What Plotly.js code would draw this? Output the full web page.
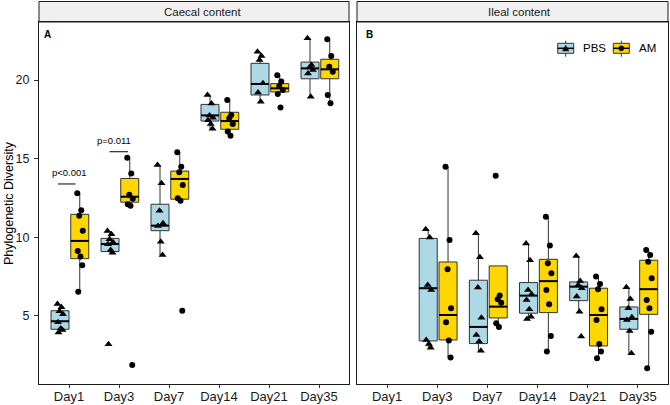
<!DOCTYPE html>
<html>
<head>
<meta charset="utf-8">
<script src="https://cdn.plot.ly/plotly-3.0.1.min.js"></script>
<style>html,body{margin:0;padding:0;background:#fff}#chart{width:670px;height:405px}</style>
</head>
<body>
<div id="chart"></div>
<script>
// ---------------- DATA ----------------
const days = ['Day1', 'Day3', 'Day7', 'Day14', 'Day21', 'Day35'];
const caecalDays = ['Day1', 'Day3', 'Day7', 'Day14', 'Day21', 'Day35'];
const ilealDays = ['Day3', 'Day7', 'Day14', 'Day21', 'Day35'];

// Caecal content, PBS box statistics
const caecalPbsQ1 = [4.15, 9.09, 10.42, 17.39, 19.05, 20.08];
const caecalPbsMedian = [4.66, 9.57, 10.74, 17.75, 19.75, 20.74];
const caecalPbsQ3 = [5.33, 9.93, 12.10, 18.45, 21.06, 21.14];
const caecalPbsLow = [3.94, 9.02, 8.87, 16.90, 18.62, 18.94];
const caecalPbsHigh = [5.76, 10.40, 14.60, 19.07, 21.80, 22.65];
// Caecal content, AM box statistics
const caecalAmQ1 = [8.64, 12.23, 12.42, 16.87, 19.24, 20.08];
const caecalAmMedian = [9.77, 12.58, 13.71, 17.39, 19.47, 20.68];
const caecalAmQ3 = [11.46, 13.74, 14.21, 17.95, 19.77, 21.32];
const caecalAmLow = [6.54, 12.05, 12.33, 16.45, 19.11, 18.52];
const caecalAmHigh = [12.80, 15.06, 15.40, 18.73, 20.30, 22.59];

// Ileal content, PBS box statistics
const ilealPbsQ1 = [3.41, 3.24, 5.17, 5.97, 4.15];
const ilealPbsMedian = [6.76, 4.30, 6.29, 6.86, 4.81];
const ilealPbsQ3 = [9.93, 7.27, 7.12, 7.16, 5.57];
const ilealPbsLow = [2.98, 2.79, 4.81, 5.27, 2.62];
const ilealPbsHigh = [10.51, 10.25, 9.61, 8.81, 6.82];
// Ileal content, AM box statistics
const ilealAmQ1 = [3.47, 4.87, 5.21, 3.09, 5.10];
const ilealAmMedian = [5.06, 5.59, 7.21, 5.06, 6.70];
const ilealAmQ3 = [8.43, 8.18, 8.60, 6.76, 8.54];
const ilealAmLow = [2.35, 4.30, 2.73, 2.31, 1.67];
const ilealAmHigh = [14.49, 8.18, 11.31, 7.50, 9.19];

// Individual samples
const caecalPbsPoints = [
  [5.75, 5.55, 5.30, 5.10, 4.60, 4.20, 4.10, 3.95],
  [10.40, 10.20, 9.87, 9.68, 9.55, 9.19, 9.02, 3.20],
  [14.60, 13.43, 11.69, 10.89, 10.72, 9.72, 8.87],
  [19.05, 18.50, 17.75, 17.60, 17.45, 17.20, 16.90],
  [21.80, 21.53, 21.27, 19.79, 19.20, 18.62],
  [22.65, 20.95, 20.80, 20.64, 20.42, 18.94]
];
const caecalAmPoints = [
  [12.80, 11.72, 11.37, 10.42, 9.13, 8.77, 8.22, 6.54],
  [15.06, 14.05, 12.70, 12.45, 12.10, 12.00, 1.88],
  [15.40, 14.49, 14.13, 13.32, 12.48, 12.33, 5.33],
  [18.73, 17.78, 17.57, 17.20, 16.72, 16.45],
  [20.30, 19.90, 19.62, 19.36, 19.11, 18.26],
  [22.59, 21.53, 20.85, 20.53, 19.05, 18.52]
];
const ilealPbsPoints = [
  [10.51, 9.98, 6.97, 6.65, 3.47, 3.22, 2.98],
  [10.25, 8.73, 6.80, 4.89, 3.79, 3.37, 2.79],
  [9.61, 8.54, 6.65, 6.38, 6.01, 5.42, 4.95, 4.81],
  [8.81, 7.22, 6.97, 6.76, 6.23, 5.27, 3.69],
  [6.82, 6.08, 5.49, 4.91, 4.74, 4.04, 2.62]
];
const ilealAmPoints = [
  [14.49, 9.83, 7.97, 5.49, 4.60, 3.43, 2.35],
  [13.92, 6.29, 6.06, 5.84, 4.53, 4.30],
  [11.31, 9.47, 8.35, 7.71, 6.65, 5.74, 3.73, 2.73],
  [7.50, 7.03, 6.70, 5.42, 4.74, 3.22, 2.73, 2.31],
  [9.19, 8.87, 8.45, 7.39, 6.01, 5.49, 4.00, 1.67]
];

// significance labels (Caecal content)
const pLabels = ['p<0.001', 'p=0.011'];
const pDays = ['Day1', 'Day3'];
const pHeights = [13.39, 15.44];

// ---------------- STYLE / LAYOUT ----------------
const W = 670, H = 405;
const PX = x => x / W;
const PY = y => 1 - y / H;
const FONT = 'Liberation Sans, Arial, sans-serif';
const BLUE = '#ADD8E6';
const GOLD = '#FFD700';
const BOXLINE = '#333333';
const OFF_PBS = -0.18, OFF_AM = 0.215, BOXW = 0.36;
const JIT = [-0.05, 0.03, -0.01, 0.06, -0.04, 0.015, 0.05, -0.03];
const pos = d => days.indexOf(d) + 1;

function boxTrace(ax, ay, dlist, off, q1, med, q3, lo, hi, fill) {
  return {
    type: 'box', xaxis: ax, yaxis: ay, orientation: 'v',
    x: dlist.map(d => pos(d) + off),
    q1: q1, median: med, q3: q3, lowerfence: lo, upperfence: hi,
    width: BOXW, fillcolor: fill, line: { color: BOXLINE, width: 1 },
    whiskerwidth: 0, boxpoints: false, showlegend: false, hoverinfo: 'skip'
  };
}
function medianTrace(ax, ay, dlist, off, med) {
  const xs = [], ys = [];
  dlist.forEach((d, i) => {
    const c = pos(d) + off;
    xs.push(c - BOXW / 2, c + BOXW / 2, null);
    ys.push(med[i], med[i], null);
  });
  return { type: 'scatter', mode: 'lines', xaxis: ax, yaxis: ay, x: xs, y: ys,
    line: { color: '#000', width: 2 }, showlegend: false, hoverinfo: 'skip' };
}
function pointTrace(ax, ay, dlist, off, pts, symbol, size) {
  const xs = [], ys = [];
  dlist.forEach((d, i) => {
    pts[i].forEach((v, k) => {
      xs.push(pos(d) + off + JIT[k % JIT.length]);
      ys.push(v);
    });
  });
  return { type: 'scatter', mode: 'markers', xaxis: ax, yaxis: ay, x: xs, y: ys,
    marker: { symbol: symbol, size: size, color: '#000' }, showlegend: false, hoverinfo: 'skip' };
}

const traces = [
  boxTrace('x', 'y', caecalDays, OFF_PBS, caecalPbsQ1, caecalPbsMedian, caecalPbsQ3, caecalPbsLow, caecalPbsHigh, BLUE),
  boxTrace('x', 'y', caecalDays, OFF_AM, caecalAmQ1, caecalAmMedian, caecalAmQ3, caecalAmLow, caecalAmHigh, GOLD),
  boxTrace('x2', 'y2', ilealDays, OFF_PBS, ilealPbsQ1, ilealPbsMedian, ilealPbsQ3, ilealPbsLow, ilealPbsHigh, BLUE),
  boxTrace('x2', 'y2', ilealDays, OFF_AM, ilealAmQ1, ilealAmMedian, ilealAmQ3, ilealAmLow, ilealAmHigh, GOLD),
  medianTrace('x', 'y', caecalDays, OFF_PBS, caecalPbsMedian),
  medianTrace('x', 'y', caecalDays, OFF_AM, caecalAmMedian),
  medianTrace('x2', 'y2', ilealDays, OFF_PBS, ilealPbsMedian),
  medianTrace('x2', 'y2', ilealDays, OFF_AM, ilealAmMedian),
  pointTrace('x', 'y', caecalDays, OFF_PBS, caecalPbsPoints, 'triangle-up', 7),
  pointTrace('x', 'y', caecalDays, OFF_AM, caecalAmPoints, 'circle', 6),
  pointTrace('x2', 'y2', ilealDays, OFF_PBS, ilealPbsPoints, 'triangle-up', 7),
  pointTrace('x2', 'y2', ilealDays, OFF_AM, ilealAmPoints, 'circle', 6)
];

const yDomain = [PY(384), PY(22)];
const yRange = [0.67, 23.69];
const xCommon = {
  range: [0.4, 6.6], tickmode: 'array', tickvals: days.map(pos), ticktext: days,
  ticks: 'outside', ticklen: 3, tickcolor: '#333', tickwidth: 1,
  ticklabelstandoff: -3,
  showline: true, mirror: true, linecolor: '#1a1a1a', linewidth: 1,
  showgrid: false, zeroline: false,
  tickfont: { family: FONT, size: 13, color: '#1a1a1a' }
};
const layout = {
  width: W, height: H,
  margin: { l: 0, r: 0, t: 0, b: 0 },
  paper_bgcolor: '#fff', plot_bgcolor: '#fff',
  showlegend: false,
  font: { family: FONT, color: '#1a1a1a' },
  xaxis: Object.assign({}, xCommon, { domain: [PX(39), PX(349)], anchor: 'y' }),
  xaxis2: Object.assign({}, xCommon, { domain: [PX(357), PX(668)], anchor: 'y2' }),
  yaxis: {
    domain: yDomain, range: yRange, anchor: 'x',
    tickmode: 'array', tickvals: [5, 10, 15, 20],
    ticks: 'outside', ticklen: 4, tickcolor: '#333',
    ticklabelstandoff: 2,
    showline: true, mirror: true, linecolor: '#1a1a1a', linewidth: 1,
    showgrid: false, zeroline: false,
    tickfont: { family: FONT, size: 12.5, color: '#1a1a1a' }
  },
  yaxis2: {
    domain: yDomain, range: yRange, anchor: 'x2',
    showticklabels: false, ticks: '',
    showline: true, mirror: true, linecolor: '#1a1a1a', linewidth: 1,
    showgrid: false, zeroline: false
  },
  shapes: [],
  annotations: []
};

// facet strips
[[39, 349], [357, 668]].forEach(([a, b]) => {
  layout.shapes.push({ type: 'rect', xref: 'paper', yref: 'paper',
    x0: PX(a), x1: PX(b), y0: PY(22), y1: PY(1.5),
    fillcolor: '#F0F0F0', line: { color: '#1a1a1a', width: 1 }, layer: 'below' });
});
layout.annotations.push(
  { xref: 'paper', yref: 'paper', x: PX(202.5), y: PY(12), text: 'Caecal content', showarrow: false,
    xanchor: 'center', yanchor: 'middle', font: { family: FONT, size: 11.5, color: '#1a1a1a' } },
  { xref: 'paper', yref: 'paper', x: PX(519), y: PY(12), text: 'Ileal content', showarrow: false,
    xanchor: 'center', yanchor: 'middle', font: { family: FONT, size: 11.5, color: '#1a1a1a' } },
  { xref: 'paper', yref: 'paper', x: PX(42), y: PY(34.5), text: '<b>A</b>', showarrow: false,
    xanchor: 'left', yanchor: 'middle', font: { family: FONT, size: 10, color: '#000' } },
  { xref: 'paper', yref: 'paper', x: PX(363.5), y: PY(34.5), text: '<b>B</b>', showarrow: false,
    xanchor: 'left', yanchor: 'middle', font: { family: FONT, size: 10, color: '#000' } },
  { xref: 'paper', yref: 'paper', x: PX(9), y: PY(203), text: 'Phylogenetic Diversity', showarrow: false,
    textangle: -90, xanchor: 'center', yanchor: 'middle', font: { family: FONT, size: 12.5, color: '#000' } }
);

// significance brackets
const pLineOff = [[-0.22, 0.13], [-0.19, 0.18]];
const pTextOff = [0.01, -0.1];
pLabels.forEach((lab, i) => {
  const c = pos(pDays[i]);
  layout.shapes.push({ type: 'line', xref: 'x', yref: 'y',
    x0: c + pLineOff[i][0], x1: c + pLineOff[i][1], y0: pHeights[i], y1: pHeights[i],
    line: { color: '#000', width: 1 } });
  layout.annotations.push({ xref: 'x', yref: 'y', x: c + pTextOff[i], y: pHeights[i] + 0.25,
    text: lab, showarrow: false, xanchor: 'center', yanchor: 'bottom',
    font: { family: FONT, size: 9.5, color: '#000' } });
});

// manual legend (box key with marker)
function legendKey(cx, fill, marker, label, tx) {
  const cy = 48.3;
  layout.shapes.push({ type: 'line', xref: 'paper', yref: 'paper',
    x0: PX(cx), x1: PX(cx), y0: PY(40.7), y1: PY(56.7), line: { color: BOXLINE, width: 1 } });
  layout.shapes.push({ type: 'rect', xref: 'paper', yref: 'paper',
    x0: PX(cx - 8), x1: PX(cx + 8), y0: PY(53.3), y1: PY(43.3),
    fillcolor: fill, line: { color: BOXLINE, width: 1 } });
  layout.shapes.push({ type: 'line', xref: 'paper', yref: 'paper',
    x0: PX(cx - 8), x1: PX(cx + 8), y0: PY(cy), y1: PY(cy), line: { color: '#000', width: 1.5 } });
  if (marker === 'triangle') {
    layout.shapes.push({ type: 'path', xref: 'paper', yref: 'paper',
      path: `M ${PX(cx - 3.2)} ${PY(cy + 2.6)} L ${PX(cx + 3.2)} ${PY(cy + 2.6)} L ${PX(cx)} ${PY(cy - 3)} Z`,
      fillcolor: '#000', line: { color: '#000', width: 0.5 } });
  } else {
    layout.shapes.push({ type: 'circle', xref: 'paper', yref: 'paper',
      x0: PX(cx - 2.6), x1: PX(cx + 2.6), y0: PY(cy + 2.6), y1: PY(cy - 2.6),
      fillcolor: '#000', line: { color: '#000', width: 0.5 } });
  }
  layout.annotations.push({ xref: 'paper', yref: 'paper', x: PX(tx), y: PY(cy), text: label,
    showarrow: false, xanchor: 'left', yanchor: 'middle',
    font: { family: FONT, size: 11.5, color: '#000' } });
}
legendKey(565.7, BLUE, 'triangle', 'PBS', 581);
legendKey(621.3, GOLD, 'circle', 'AM', 637);

Plotly.newPlot('chart', traces, layout, { staticPlot: true, displayModeBar: false });
</script>
</body>
</html>
